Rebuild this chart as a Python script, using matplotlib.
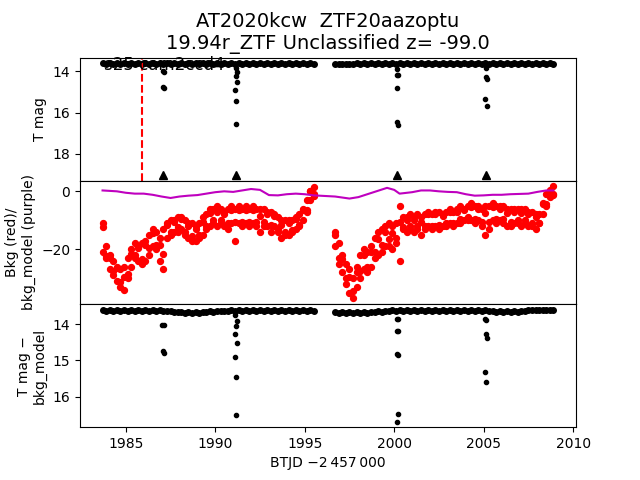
import matplotlib
matplotlib.use('Agg')
import matplotlib.pyplot as plt

# cadence times (BTJD - 2457000), two sectors of the light curve
btjd = [1983.7, 1983.9, 1984.1, 1984.3, 1984.5, 1984.7, 1984.9, 1985.1, 1985.3, 1985.5,
        1985.7, 1985.9, 1986.1, 1986.3, 1986.5, 1986.7, 1986.9, 1987.1, 1987.3, 1987.5,
        1987.7, 1987.9, 1988.1, 1988.3, 1988.5, 1988.7, 1988.9, 1989.1, 1989.3, 1989.5,
        1989.7, 1989.9, 1990.1, 1990.3, 1990.5, 1990.7, 1990.9, 1991.1, 1991.3, 1991.5,
        1991.7, 1991.9, 1992.1, 1992.3, 1992.5, 1992.7, 1992.9, 1993.1, 1993.3, 1993.5,
        1993.7, 1993.9, 1994.1, 1994.3, 1994.5, 1994.7, 1994.9, 1995.1, 1995.3, 1995.5,
        1996.7, 1996.9, 1997.1, 1997.3, 1997.5, 1997.7, 1997.9, 1998.1, 1998.3, 1998.5,
        1998.7, 1998.9, 1999.1, 1999.3, 1999.5, 1999.7, 1999.9, 2000.1, 2000.3, 2000.5,
        2000.7, 2000.9, 2001.1, 2001.3, 2001.5, 2001.7, 2001.9, 2002.1, 2002.3, 2002.5,
        2002.7, 2002.9, 2003.1, 2003.3, 2003.5, 2003.7, 2003.9, 2004.1, 2004.3, 2004.5,
        2004.7, 2004.9, 2005.1, 2005.3, 2005.5, 2005.7, 2005.9, 2006.1, 2006.3, 2006.5,
        2006.7, 2006.9, 2007.1, 2007.3, 2007.5, 2007.7, 2007.9, 2008.1, 2008.3, 2008.5,
        2008.7, 2008.9]

tmag = [13.61, 13.63, 13.62, 13.64, 13.61, 13.63, 13.62, 13.64, 13.61, 13.63,
        13.62, 13.64, 13.61, 13.63, 13.62, 13.64, 13.61, 13.63, 13.62, 13.64,
        13.61, 13.63, 13.62, 13.64, 13.61, 13.63, 13.62, 13.64, 13.61, 13.63,
        13.62, 13.64, 13.61, 13.63, 13.62, 13.64, 13.61, 13.63, 13.62, 13.64,
        13.61, 13.63, 13.62, 13.64, 13.61, 13.63, 13.62, 13.64, 13.61, 13.63,
        13.62, 13.64, 13.61, 13.63, 13.62, 13.64, 13.61, 13.63, 13.62, 13.63,
        13.65, 13.67, 13.64, 13.66, 13.63, 13.65, 13.62, 13.64, 13.61, 13.63,
        13.62, 13.64, 13.61, 13.63, 13.62, 13.64, 13.61, 13.63, 13.62, 13.64,
        13.61, 13.63, 13.62, 13.64, 13.61, 13.63, 13.62, 13.64, 13.61, 13.63,
        13.62, 13.64, 13.61, 13.63, 13.62, 13.64, 13.61, 13.63, 13.62, 13.64,
        13.61, 13.63, 13.62, 13.64, 13.61, 13.63, 13.62, 13.64, 13.61, 13.63,
        13.62, 13.64, 13.61, 13.63, 13.62, 13.64, 13.61, 13.63, 13.62, 13.64,
        13.61, 13.63]

bkg_hi = [-11, -19, -22, -24, -26, -27, -26, -23, -20, -18,
          -19, -18, -17, -15, -13, -14, -16, -13, -11, -10,
          -10, -9, -9, -10, -11, -11, -12, -11, -9, -8,
          -6, -6, -5, -6, -7, -6, -5, -6, -5, -6,
          -5, -6, -5, -6, -6, -6, -7, -7, -8, -9,
          -10, -10, -10, -10, -9, -8, -6, -3, 0, 1.5,
          -14, -18, -22, -25, -27, -30, -26, -22, -20, -21,
          -19, -16, -14, -13, -12, -11, -12, -11, -5, -9,
          -9, -8, -9, -8, -9, -8, -7, -8, -7, -7,
          -8, -7, -6, -7, -6, -5, -6, -5, -4, -5,
          -5, -6, -5, -5, -4, -5, -5, -5, -6, -6,
          -6, -6, -6, -6, -7, -7, -8, -8, -4, -1,
          0, 1.7]

bkg_mid = [-12.5, -22.5, -23, -27.5, -26.5, -31.5, -29.5, -28.5, -21.5, -22,
           -19.5, -23.5, -18.5, -19.5, -14.5, -18.5, -18.5, -21.5, -11.5, -14,
           -10.5, -12.5, -9.5, -14, -12, -15.5, -13, -15, -10.5, -12,
           -7.5, -10, -7, -10, -8, -11, -6.5, -10.5, -6.5, -10.5,
           -6.5, -10.5, -6.5, -10.5, -8.5, -10.5, -8, -11.5, -8.5, -13,
           -11.5, -14, -11, -13.5, -9.5, -11.5, -6.5, -6.5, 0, -1.5,
           -15, -23, -23.5, -30, -29.5, -34.5, -28, -27.5, -22, -26,
           -21, -21, -16.5, -18.5, -14, -16.5, -14.5, -16, -10.5, -12.5,
           -10, -12, -10, -12, -10.5, -12, -8, -12, -8, -11.5,
           -8.5, -11, -7, -11, -7, -9.5, -6.5, -9, -5.5, -9.5,
           -6, -10.5, -7.5, -10.5, -5.5, -9.5, -6, -9.5, -7.5, -10.5,
           -7, -10, -7.5, -10, -8, -11, -9, -11, -4.5, -4.5,
           0.5, -1.2]

bkg_lo = [-21, -23, -27, -29, -31, -33, -34, -30, -26, -23,
          -24, -25, -24, -22, -19, -20, -24, -27, -16, -15,
          -14, -14, -13, -15, -16, -17, -17, -16, -15, -13,
          -12, -11, -12, -11, -12, -13, -11, -17, -11, -12,
          -11, -12, -11, -12, -14, -12, -12, -14, -12, -14,
          -16, -15, -15, -14, -13, -12, -10, -7, -3, -1,
          -19, -25, -28, -32, -35, -37, -33, -30, -27, -28,
          -26, -23, -22, -21, -19, -19, -20, -18, -24, -13,
          -14, -13, -14, -13, -15, -13, -12, -13, -12, -13,
          -12, -12, -11, -12, -11, -11, -10, -10, -10, -11,
          -10, -12, -15, -13, -10, -11, -10, -11, -12, -12,
          -11, -11, -12, -11, -12, -12, -13, -11, -8, -5,
          -2, -1]

tmag_sub = [13.62, 13.64, 13.62, 13.64, 13.62, 13.64, 13.62, 13.64, 13.62, 13.64,
            13.62, 13.64, 13.62, 13.64, 13.62, 13.64, 13.62, 13.64, 13.63, 13.65,
            13.66, 13.68, 13.67, 13.69, 13.67, 13.69, 13.67, 13.69, 13.66, 13.68,
            13.65, 13.66, 13.64, 13.65, 13.63, 13.64, 13.62, 13.64, 13.62, 13.64,
            13.62, 13.64, 13.62, 13.64, 13.62, 13.64, 13.62, 13.64, 13.62, 13.64,
            13.62, 13.64, 13.62, 13.64, 13.62, 13.64, 13.62, 13.64, 13.62, 13.63,
            13.68, 13.70, 13.68, 13.70, 13.68, 13.70, 13.68, 13.70, 13.67, 13.69,
            13.66, 13.67, 13.65, 13.66, 13.64, 13.65, 13.62, 13.64, 13.62, 13.64,
            13.62, 13.64, 13.62, 13.64, 13.62, 13.64, 13.62, 13.64, 13.62, 13.64,
            13.62, 13.64, 13.62, 13.64, 13.62, 13.64, 13.62, 13.64, 13.62, 13.64,
            13.62, 13.64, 13.62, 13.65, 13.64, 13.66, 13.64, 13.66, 13.64, 13.66,
            13.64, 13.66, 13.64, 13.65, 13.61, 13.62, 13.60, 13.62, 13.60, 13.62,
            13.60, 13.62]

# outlying cadences (momentum dumps)
out_t = [1987.07, 1987.13, 1987.07, 1987.13,
         1991.15, 1991.2, 1991.15, 1991.2, 1991.13, 1991.18, 1991.15,
         2000.17, 2000.15, 2000.2, 2000.17, 2000.15, 2000.2,
         2005.11, 2005.13, 2005.16, 2005.09, 2005.16]
out_mag = [14.0, 14.02, 14.76, 14.8,
           13.83, 14.05, 14.25, 14.52, 14.9, 15.43, 16.53,
           13.9, 14.18, 14.2, 14.8, 16.45, 16.62,
           13.83, 14.3, 14.38, 15.33, 15.66]

out_sub_t = [1987.05, 1987.14, 1987.07, 1987.13,
             1991.13, 1991.2, 1991.17, 1991.13, 1991.2, 1991.13, 1991.17, 1991.15,
             2000.15, 2000.2, 2000.15, 2000.2, 2000.15, 2000.2, 2000.19, 2000.16,
             2005.09, 2005.13, 2005.11, 2005.16, 2005.1, 2005.14]
out_sub = [14.03, 14.03, 14.74, 14.8,
           13.75, 13.91, 14.06, 14.26, 14.52, 14.91, 15.45, 16.52,
           13.85, 13.85, 14.2, 14.2, 14.83, 14.85, 16.47, 16.69,
           13.85, 13.88, 14.26, 14.37, 15.33, 15.61]

lim_t = [1987.1, 1991.15, 2000.17, 2005.11]
lim_mag = [19.03, 19.03, 19.03, 19.03]

model_t = [1983.7, 1984.5, 1985.0, 1985.5, 1986.0, 1986.5, 1987.0, 1987.5, 1988.0, 1988.5,
           1989.0, 1989.5, 1990.0, 1990.5, 1991.0, 1991.5, 1992.0, 1992.5, 1993.0, 1993.5,
           1994.0, 1994.5, 1995.0, 1995.5, 1996.7, 1997.5, 1998.0, 1998.5, 1999.0, 1999.6,
           2000.0, 2000.3, 2001.0, 2001.5, 2002.0, 2002.5, 2003.0, 2003.5, 2004.0, 2004.5,
           2005.0, 2005.5, 2006.0, 2006.5, 2007.0, 2007.5, 2008.0, 2008.5, 2008.9]
model_bkg = [0.3, 0.0, -0.5, -0.8, -0.8, -1.2, -1.8, -2.3, -1.8, -1.5,
             -1.3, -0.8, -0.3, 0.0, -0.2, 0.3, 0.8, 0.5, -1.3, -1.4,
             -1.0, -0.8, -1.0, -1.4, -1.8, -2.5, -2.0, -1.0, 0.0, 1.2,
             0.5, -0.8, -0.3, 0.3, 0.3, 0.0, -0.2, -0.3, -1.0, -1.5,
             -1.4, -1.2, -1.2, -1.0, -0.9, -0.8, -0.2, 0.3, 0.3]

t_disc = 1985.88

fig, axs = plt.subplots(3, 1, sharex=True, figsize=(6.4, 4.8))
plt.subplots_adjust(hspace=0)

ax = axs[0]
ax.plot(btjd, tmag, 'k.', ms=8)
ax.plot(out_t, out_mag, 'k.')
ax.plot(lim_t, lim_mag, 'k^')
ax.axvline(t_disc, color='r', ls='--')
ax.invert_yaxis()
ax.set_ylabel('T mag')
ax.text(1983.8, 13.95, 's25 cam2ccd4', fontsize=12)
ax.set_title('AT2020kcw  ZTF20aazoptu\n19.94r_ZTF Unclassified z= -99.0', fontsize=14)

ax = axs[1]
ax.plot(btjd, bkg_hi, 'r.', ms=8.5)
ax.plot(btjd, bkg_mid, 'r.', ms=8.5)
ax.plot(btjd, bkg_lo, 'r.', ms=8.5)
ax.plot(model_t, model_bkg, 'm-')
ax.set_ylabel('Bkg (red)/\nbkg_model (purple)')

ax = axs[2]
ax.plot(btjd, tmag_sub, 'k.', ms=8)
ax.plot(out_sub_t, out_sub, 'k.')
ax.invert_yaxis()
ax.set_ylabel('T mag \u2212\nbkg_model')
ax.set_xlabel('BTJD \u22122\u2009457\u2009000')

plt.savefig('out.png', dpi=100)
